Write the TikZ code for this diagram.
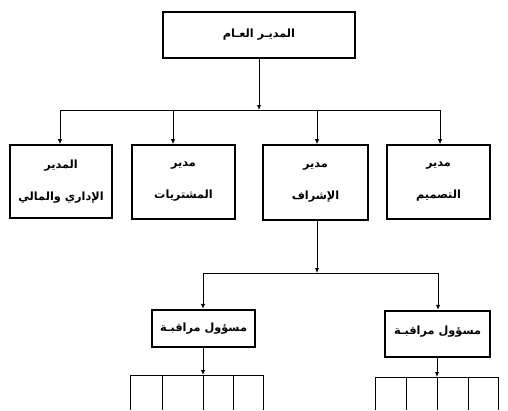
\documentclass[tikz,border=0pt]{standalone}
\usepackage{fontspec}
\TeXXeTstate=1
\newfontfamily\arabicfont[Script=Arabic]{DejaVu Sans}
\usetikzlibrary{arrows.meta,calc}
\begin{document}
\begin{tikzpicture}[x=1pt,y=-1pt,
  box/.style={draw,line width=1.6pt,inner sep=0pt,align=center,font=\arabicfont\bfseries\fontsize{11.3}{13}\selectfont},
  lowbox/.style={box,line width=2.4pt},
  ln/.style={line width=0.9pt},
  arr/.style={ln,-{Latex[length=5pt,width=4.5pt]}}]
\useasboundingbox (0,0) rectangle (508,410);
% nodes
\node[box,minimum width=192pt,minimum height=46pt] (top) at (259,35) {\beginR المديـر العـام\endR};
\node[box,minimum width=102pt,minimum height=73pt] (m1) at (61,181.5) {\beginR المدير\endR\\[19pt]\beginR الإداري والمالي\endR};
\node[box,minimum width=103pt,minimum height=74pt] (m2) at (183.5,182) {\beginR مدير\endR\\[19pt]\beginR المشتريات\endR};
\node[box,minimum width=105pt,minimum height=75pt] (m3) at (315.5,182.5) {\beginR مدير\endR\\[19pt]\beginR الإشراف\endR};
\node[box,minimum width=103pt,minimum height=74pt] (m4) at (438.5,182) {\beginR مدير\endR\\[19pt]\beginR التصميم\endR};
\node[lowbox,minimum width=103pt,minimum height=37pt] (s1) at (203.5,328.5) {\beginR مسؤول مراقبـة\endR};
\node[lowbox,minimum width=105pt,minimum height=46pt,text depth=8pt] (s2) at (437.5,334) {\beginR مسؤول مراقبـة\endR};
% bus 1
\coordinate (j1) at (259,110);
\coordinate (b1) at (60,110);
\coordinate (b2) at (173,110);
\coordinate (b3) at (317,110);
\coordinate (b4) at (440,110);
\draw[arr] (top.south) -- (j1);
\draw[ln] (b1) -- (b4);
\draw[arr] (b1) -- (b1 |- m1.north);
\draw[arr] (b2) -- (b2 |- m2.north);
\draw[arr] (b3) -- (b3 |- m3.north);
\draw[arr] (b4) -- (b4 |- m4.north);
% bus 2
\coordinate (j2) at (317,273);
\coordinate (c1) at (203,273);
\coordinate (c2) at (438,273);
\draw[arr] (j2 |- m3.south) -- (j2);
\draw[ln] (c1) -- (c2);
\draw[arr] (c1) -- (c1 |- s1.north);
\draw[arr] (c2) -- (c2 |- s2.north);
% lower bars
\coordinate (d0) at (203,375);
\coordinate (e0) at (437,377);
\draw[arr] (d0 |- s1.south) -- (d0);
\draw[arr] (e0 |- s2.south) -- (e0);
\draw[ln] (130,375) -- (263,375);
\foreach \x in {130,162,203,233,263} \draw[ln] (\x,375) -- (\x,410);
\draw[ln] (375,377) -- (498,377);
\foreach \x in {375,406,437,468,498} \draw[ln] (\x,377) -- (\x,410);
\end{tikzpicture}
\end{document}
